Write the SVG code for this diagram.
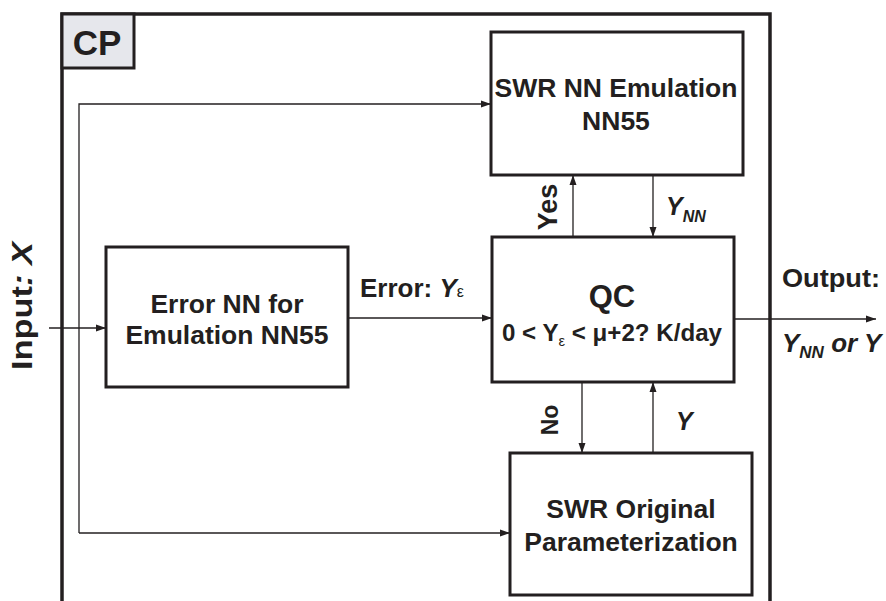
<svg xmlns="http://www.w3.org/2000/svg" width="886" height="601" viewBox="0 0 886 601">
<style>
text{font-family:"Liberation Sans",Arial,sans-serif;font-weight:bold;fill:#231f20}
.box{fill:#fff;stroke:#231f20;stroke-width:3}
.ln{fill:none;stroke:#231f20;stroke-width:1.3}
.c{text-anchor:middle}
.t{font-size:26.5px}
</style>
<defs>
<marker id="ah" viewBox="0 0 10 10" refX="10" refY="5" markerWidth="10" markerHeight="10" markerUnits="userSpaceOnUse" orient="auto">
<path d="M0,1.5 L10,5 L0,8.5 Z" fill="#231f20"/>
</marker>
</defs>
<g id="frame">
<path d="M62,601 V14 H770 V601" fill="none" stroke="#231f20" stroke-width="3.5"/>
<rect x="62" y="14" width="72" height="54" fill="#e6e7ec" stroke="#231f20" stroke-width="3"/>
<text x="97" y="55" class="c" font-size="35">CP</text>
</g>
<g id="connectors">
<path class="ln" d="M79,533 V104 H491" marker-end="url(#ah)"/>
<path class="ln" d="M79,533 H510" marker-end="url(#ah)"/>
<path class="ln" d="M49,328 H106" marker-end="url(#ah)"/>
<path class="ln" d="M348,318 H492" marker-end="url(#ah)"/>
<path class="ln" d="M573,237 V175" marker-end="url(#ah)"/>
<path class="ln" d="M653,175 V237" marker-end="url(#ah)"/>
<path class="ln" d="M582,382 V453" marker-end="url(#ah)"/>
<path class="ln" d="M653,453 V382" marker-end="url(#ah)"/>
<path class="ln" d="M734,319 H876" marker-end="url(#ah)"/>
</g>
<g id="swr-nn">
<rect class="box" x="491" y="32" width="252" height="143"/>
<text x="616" y="97" class="c t">SWR NN Emulation</text>
<text x="616" y="130" class="c t">NN55</text>
</g>
<g id="error-nn">
<rect class="box" x="106" y="247" width="242" height="140"/>
<text x="227" y="313" class="c t">Error NN for</text>
<text x="227" y="344" class="c t">Emulation NN55</text>
</g>
<g id="qc">
<rect class="box" x="492" y="237" width="242" height="145"/>
<text x="612" y="307" class="c" font-size="31">QC</text>
<text x="502" y="341" font-size="23" textLength="220" lengthAdjust="spacingAndGlyphs">0 &lt; Y<tspan font-size="14" font-weight="normal" dy="5">ε</tspan><tspan dy="-5"> &lt; μ+2? K/day</tspan></text>
</g>
<g id="swr-orig">
<rect class="box" x="510" y="453" width="242" height="142"/>
<text x="631" y="518" class="c t">SWR Original</text>
<text x="631" y="551" class="c t">Parameterization</text>
</g>
<g id="labels">
<text x="360" y="297" font-size="26">Error: <tspan font-style="italic">Y</tspan><tspan font-size="16" font-weight="normal">ε</tspan></text>
<text transform="translate(557,207) rotate(-90)" class="c" font-size="27">Yes</text>
<text x="666" y="215" font-size="25" font-style="italic">Y<tspan font-size="16" dy="7">NN</tspan></text>
<text transform="translate(558,420) rotate(-90)" class="c" font-size="23">No</text>
<text x="676" y="430" font-size="25" font-style="italic">Y</text>
<text transform="translate(32,306) rotate(-90)" class="c" font-size="29" textLength="128" lengthAdjust="spacingAndGlyphs">Input<tspan font-style="italic">: X</tspan></text>
<text x="782" y="287" font-size="25" textLength="98" lengthAdjust="spacingAndGlyphs">Output:</text>
<text x="782" y="352" font-size="26" font-style="italic">Y<tspan font-size="17" dy="6">NN</tspan><tspan dy="-6"> or Y</tspan></text>
</g>
</svg>
